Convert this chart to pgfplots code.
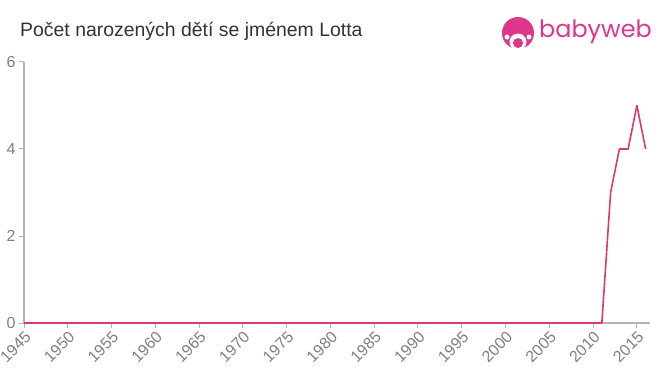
\documentclass[border=0pt]{standalone}
\usepackage{pgfplots}
\pgfplotsset{compat=1.18}
\usepackage{fontspec}
\setmainfont{Liberation Sans}
\newfontfamily\logofont{Poppins}
\definecolor{linec}{HTML}{DC3A6E}
\definecolor{axisc}{HTML}{B4B4B4}
\definecolor{tickc}{HTML}{7F7F7F}
\definecolor{titlec}{HTML}{333333}
\definecolor{logoc}{HTML}{E0368A}
\begin{document}
\begin{tikzpicture}[x=1bp,y=1bp]
\begin{axis}[
  at={(24bp,52bp)}, anchor=south west,
  scale only axis, width=626bp, height=261bp,
  xmin=1945, xmax=2016.5, ymin=0, ymax=6,
  ytick={0,2,4,6}, xtick={1945,1950,...,2015},
  axis x line=bottom, axis y line=left,
  axis line style={axisc, line width=1.3bp, -},
  tick style={axisc, line width=1bp},
  major tick length=5bp, tick align=outside,
  xticklabel style={rotate=45, anchor=north east, font=\fontsize{16}{16}\selectfont, text=tickc, inner sep=1.5bp},
  yticklabel style={font=\fontsize{16}{16}\selectfont, text=tickc},
  /pgf/number format/1000 sep={},
  /pgf/number format/assume math mode=true,
  clip=false,
]
\addplot[linec, line width=1.6bp, line join=round] coordinates {
(1945,0)(1946,0)(1947,0)(1948,0)(1949,0)(1950,0)(1951,0)(1952,0)(1953,0)(1954,0)
(1955,0)(1956,0)(1957,0)(1958,0)(1959,0)(1960,0)(1961,0)(1962,0)(1963,0)(1964,0)
(1965,0)(1966,0)(1967,0)(1968,0)(1969,0)(1970,0)(1971,0)(1972,0)(1973,0)(1974,0)
(1975,0)(1976,0)(1977,0)(1978,0)(1979,0)(1980,0)(1981,0)(1982,0)(1983,0)(1984,0)
(1985,0)(1986,0)(1987,0)(1988,0)(1989,0)(1990,0)(1991,0)(1992,0)(1993,0)(1994,0)
(1995,0)(1996,0)(1997,0)(1998,0)(1999,0)(2000,0)(2001,0)(2002,0)(2003,0)(2004,0)
(2005,0)(2006,0)(2007,0)(2008,0)(2009,0)(2010,0)(2011,0)(2012,3)(2013,4)(2014,4)
(2015,5)(2016,4)
};
\end{axis}
\node[anchor=west, text=titlec, font=\fontsize{19.5}{19.5}\selectfont, inner sep=0] at (20,344) {Počet narozených dětí se jménem Lotta};
\fill[logoc] (518,342) circle (16);
\fill[white] (518,333) circle (8.5);
\fill[logoc] (518,332) circle (5);
\fill[white] (507,338) circle (2.5);
\fill[white] (529,338) circle (2.5);
\node[anchor=west, text=logoc, font=\logofont\fontsize{24}{24}\selectfont, inner sep=0] at (539,343) {babyweb};
\pgfresetboundingbox
\path (0,0) rectangle (660,375);
\end{tikzpicture}
\end{document}
